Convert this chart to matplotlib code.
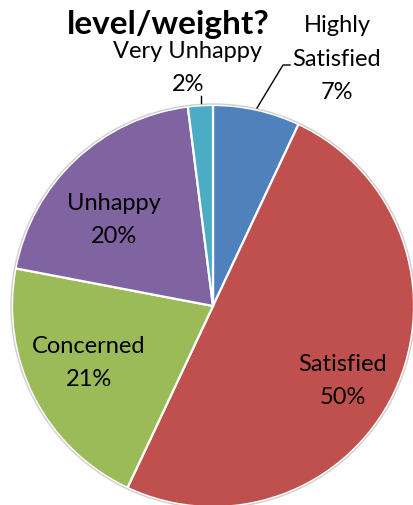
import matplotlib.pyplot as plt

# slice data, clockwise from 12 o'clock
categories = ['Highly\nSatisfied', 'Satisfied', 'Concerned', 'Unhappy', 'Very Unhappy']
shares = [7, 50, 21, 20, 2]
colors = ['#4F81BD', '#C0504D', '#9BBB59', '#8064A2', '#4BACC6']
title = 'level/weight?'

plt.rcParams['font.family'] = ['Lato', 'DejaVu Sans']

W, H = 414, 506
fig = plt.figure(figsize=(W / 100, H / 100), dpi=100)
ax = fig.add_axes([0, 0, 1, 1])

cx, cy, r = 213, H - 307, 201

wedges, _ = ax.pie(shares, colors=colors, startangle=90, counterclock=False,
                   center=(cx, cy), radius=r, frame=True,
                   wedgeprops=dict(edgecolor='white', linewidth=1.6))
ax.set_xlim(0, W)
ax.set_ylim(0, H)
ax.set_aspect('equal')
ax.axis('off')
# faint grey rim like the Excel shadow
ax.add_patch(plt.Circle((cx, cy), r + 1, fill=False, edgecolor='#d0d0d0', linewidth=1))

labels = [f'{c}\n{v}%' for c, v in zip(categories, shares)]

# label positions in image pixels (x, y from top)
pos = [(337, 59), (343, 381), (89, 363), (114, 220), (188, 68)]
for lab, (x, y) in zip(labels, pos):
    ax.text(x, H - y, lab, ha='center', va='center', fontsize=17,
            linespacing=1.75, color='black')

# leader lines
ax.plot([257, 283, 290], [H - 109, H - 66, H - 66], color='black', lw=1)
ax.plot([201, 201], [H - 97, H - 104], color='black', lw=1)

ax.text(168, H - 24, title, ha='center', va='center', fontsize=24,
        fontweight='bold', color='black')

fig.savefig('out.png', dpi=100)
